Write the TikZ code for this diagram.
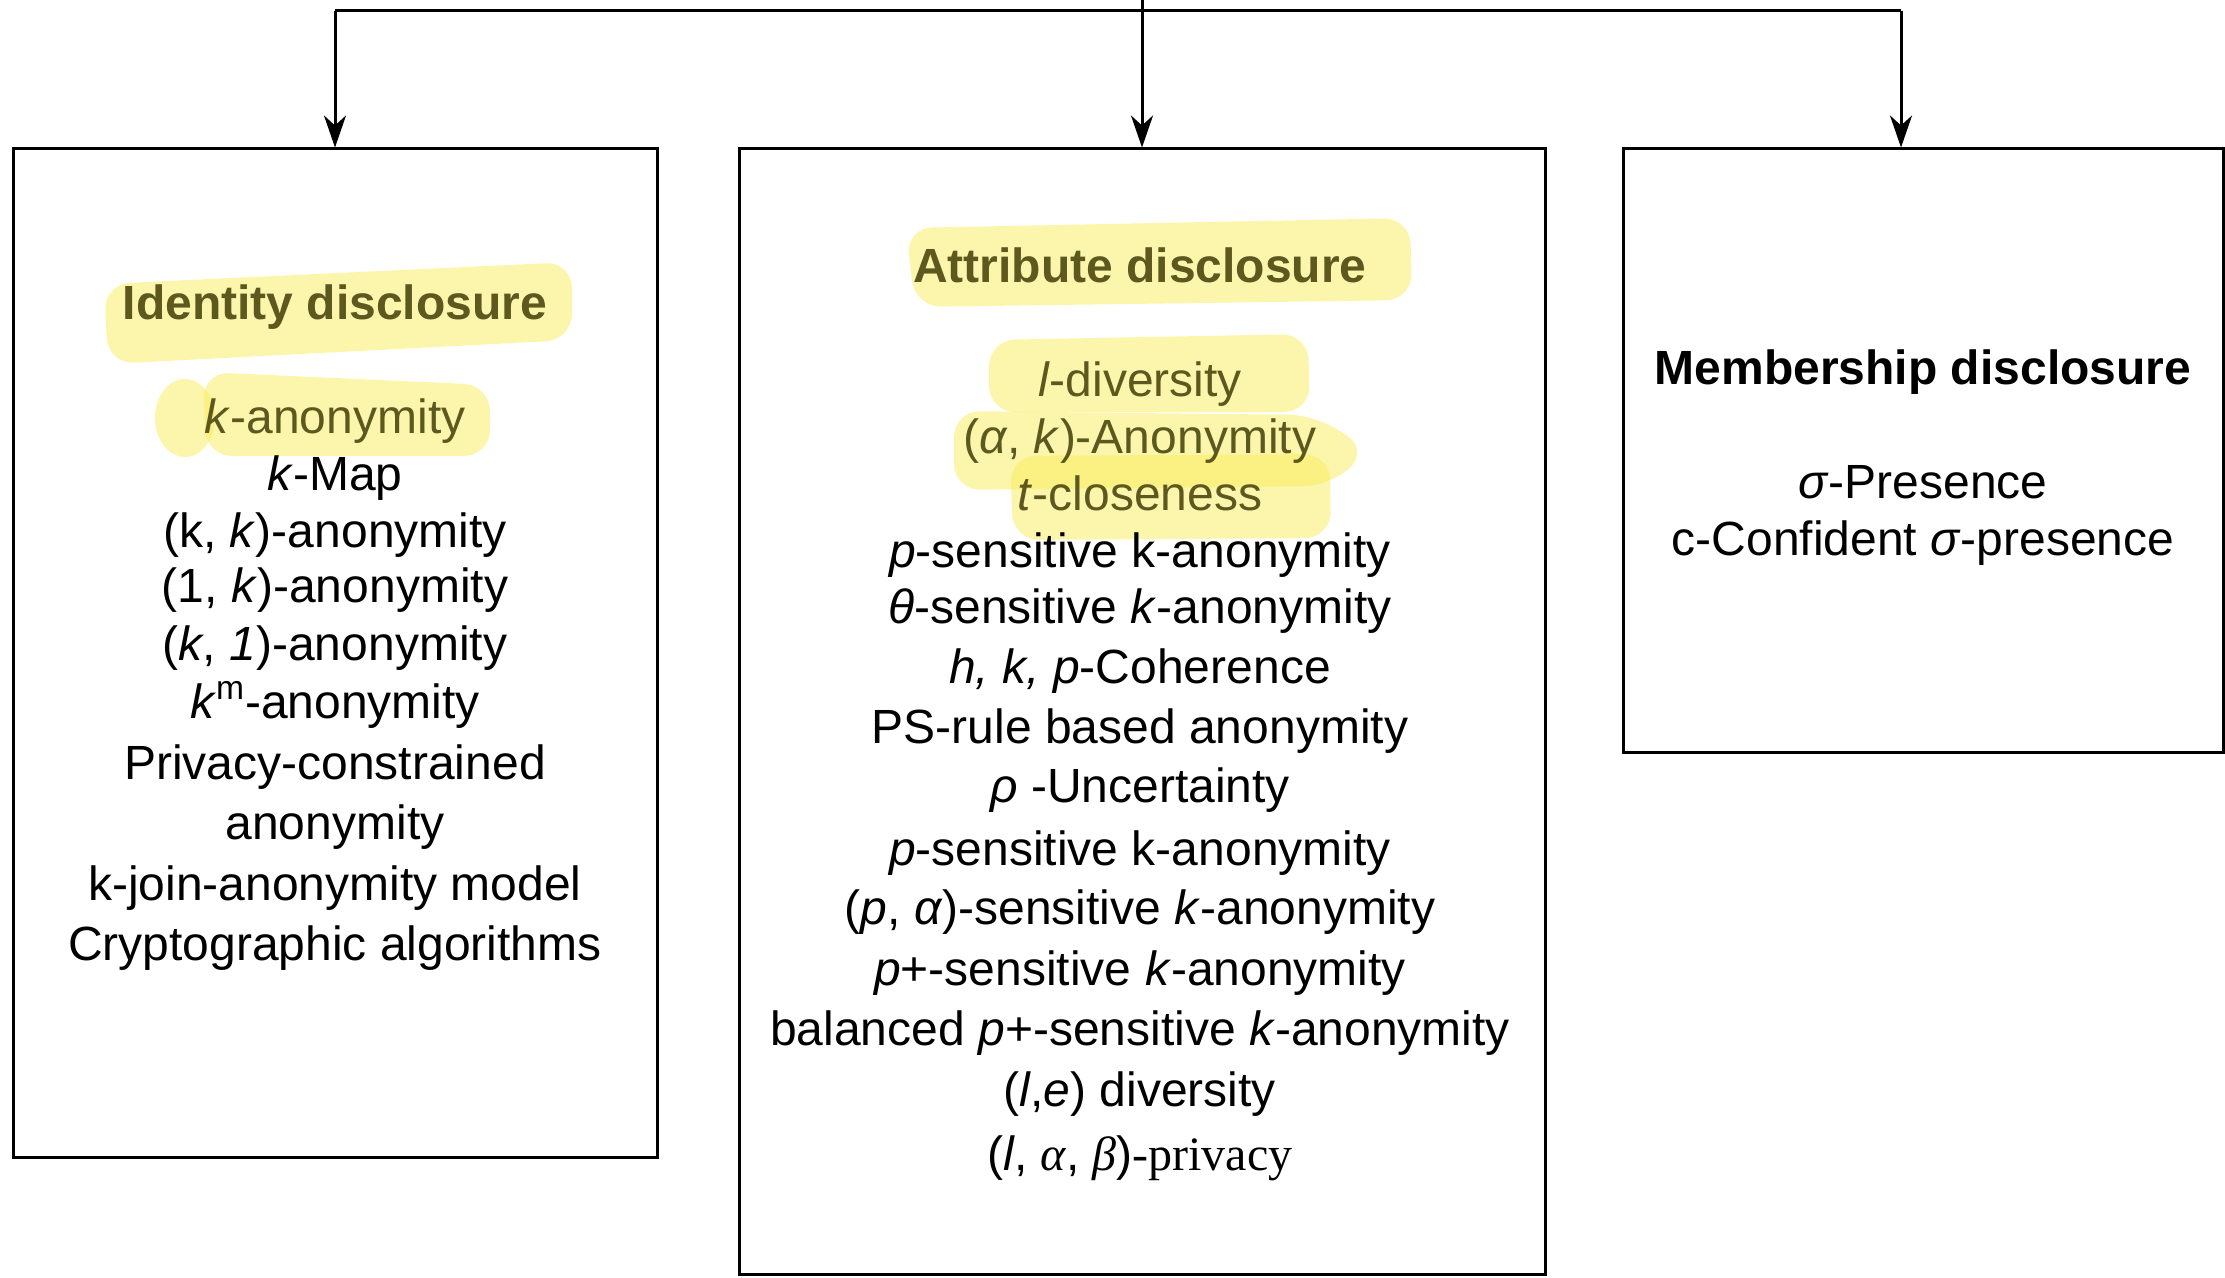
\documentclass[tikz,border=0pt]{standalone}
\usepackage{fontspec}
\setmainfont{Liberation Sans}
\newfontfamily\serifp{Liberation Serif}
\usetikzlibrary{arrows.meta}
\definecolor{olivetxt}{RGB}{92,88,30}
\definecolor{hlyellow}{RGB}{250,238,90}
\tikzset{
  box/.style={draw=black, line width=1.5pt, inner sep=0pt},
  txt/.style={anchor=base, inner sep=0pt, font=\fontsize{24}{28}\selectfont},
  hltxt/.style={txt, text=olivetxt},
  hl/.style={fill=hlyellow, fill opacity=0.5, rounded corners=13pt},
  conn/.style={line width=1.5pt},
  arr/.style={conn, -{Stealth[length=16pt,width=11pt,inset=5pt]}}
}
\begin{document}
\begin{tikzpicture}[x=0.5pt,y=-0.5pt]
\fill[white] (0,0) rectangle (2225,1278);
\useasboundingbox (0,0) rectangle (2225,1278);

% boxes
\node[box, minimum width=322pt, minimum height=504pt] (L) at (335,653) {};
\node[box, minimum width=403pt, minimum height=562.5pt] (M) at (1142,711.5) {};
\node[box, minimum width=300pt, minimum height=301.5pt] (R) at (1923,450.5) {};

% connectors
\coordinate (top) at (1142,0);
\coordinate (tl) at (335,11);
\coordinate (tr) at (1901,11);
\draw[conn] (tl) -- (tr);
\draw[arr] (top) -- (M.north);
\draw[arr] (tl) -- (L.north);
\draw[arr] (tr) -- (tr |- R.north);

% highlights
\fill[hl] (104,284) -- (572,262) -- (572,340) -- (108,364) -- cycle;
\fill[hl] (185,418) ellipse [x radius=30, y radius=39];
\fill[hl] (203,372) -- (490,385) -- (490,456) -- (206,456) -- cycle;
\fill[hl] (906,228) -- (1410,218) -- (1412,300) -- (915,307) -- cycle;
\fill[hl] (989,340) -- (1308,334) -- (1310,412) -- (989,412) -- cycle;
\fill[hl] (954,411) -- (1315,415) -- (1369,450) -- (1330,486) -- (954,490) -- cycle;
\fill[hl] (1010,456) -- (1330,454) -- (1331,538) -- (1013,540) -- cycle;

% left box text
\node[hltxt] (l0) at (335,320) {\textbf{Identity disclosure}};
\node[hltxt] (l1) at (335,433) {\textit{k}-anonymity};
\node[txt] (l2) at (335,490) {\textit{k}-Map};
\node[txt] (l3) at (335,547) {(k, \textit{k})-anonymity};
\node[txt] (l4) at (335,602) {(1, \textit{k})-anonymity};
\node[txt] (l5) at (335,660) {(\textit{k}, \textit{1})-anonymity};
\node[txt] (l6) at (335,718) {\textit{k}\textsuperscript{m}-anonymity};
\node[txt] (l7) at (335,779) {Privacy-constrained};
\node[txt] (l8) at (335,839) {anonymity};
\node[txt] (l9) at (335,900) {k-join-anonymity model};
\node[txt] (l10) at (335,960) {Cryptographic algorithms};

% middle box text
\node[hltxt] (m0) at (1140,283) {\textbf{Attribute disclosure}};
\node[hltxt] (m1) at (1140,396) {\textit{l}-diversity};
\node[hltxt] (m2) at (1140,453) {(\textit{α}, \textit{k})-Anonymity};
\node[hltxt] (m3) at (1140,510) {\textit{t}-closeness};
\node[txt] (m4) at (1140,567) {\textit{p}-sensitive k-anonymity};
\node[txt] (m5) at (1140,623) {\textit{θ}-sensitive \textit{k}-anonymity};
\node[txt] (m6) at (1140,683) {\textit{h, k, p}-Coherence};
\node[txt] (m7) at (1140,743) {PS-rule based anonymity};
\node[txt] (m8) at (1140,802) {\textit{ρ} -Uncertainty};
\node[txt] (m9) at (1140,865) {\textit{p}-sensitive k-anonymity};
\node[txt] (m10) at (1140,924) {(\textit{p}, \textit{α})-sensitive \textit{k}-anonymity};
\node[txt] (m11) at (1140,985) {\textit{p}+-sensitive \textit{k}-anonymity};
\node[txt] (m12) at (1140,1045) {balanced \textit{p}+-sensitive \textit{k}-anonymity};
\node[txt] (m13) at (1140,1106) {(\textit{l},\textit{e}) diversity};
\node[txt] (m14) at (1140,1170) {(\textit{l}, {\serifp\itshape α}, {\serifp\itshape β}){\serifp -privacy}};

% right box text
\node[txt] (r0) at (1923,385) {\textbf{Membership disclosure}};
\node[txt] (r1) at (1923,498) {\textit{σ}-Presence};
\node[txt] (r2) at (1923,555) {c-Confident \textit{σ}-presence};
\end{tikzpicture}
\end{document}
